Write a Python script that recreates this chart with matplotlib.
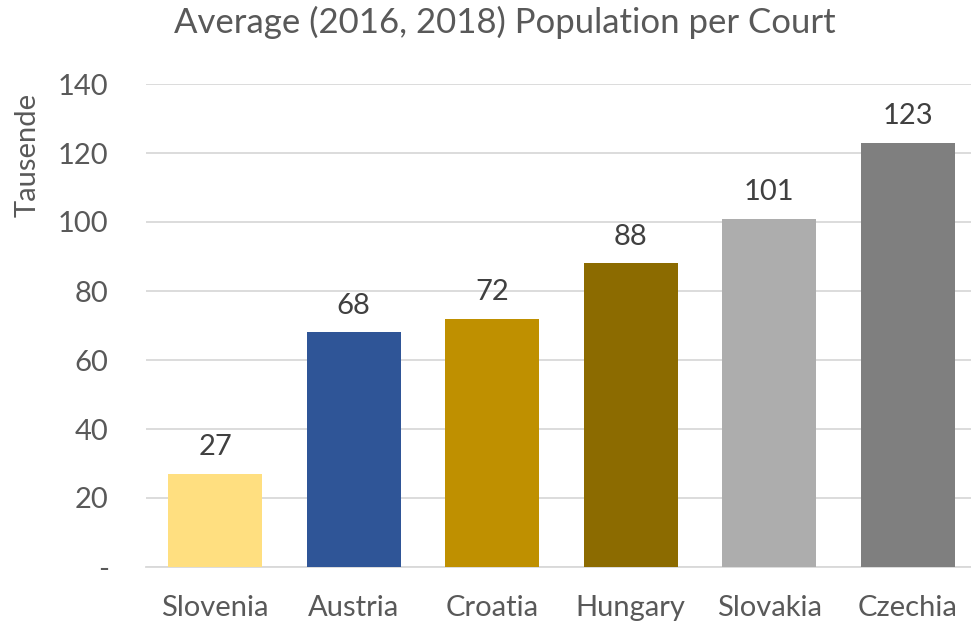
import matplotlib.pyplot as plt
import numpy as np

plt.rcParams['font.family'] = ['Lato', 'DejaVu Sans']

# population per court, in thousands
countries = ["Slovenia", "Austria", "Croatia", "Hungary", "Slovakia", "Czechia"]
values = [27, 68, 72, 88, 101, 123]
colors = ["#FFDF80", "#2F5597", "#BF9000", "#8C6B00", "#ADADAD", "#7F7F7F"]
yticks = [0, 20, 40, 60, 80, 100, 120, 140]
ytick_labels = ["-", "20", "40", "60", "80", "100", "120", "140"]

W, H = 971, 625
fig = plt.figure(figsize=(W / 100, H / 100), dpi=100)
ax = fig.add_axes([146 / W, 58 / H, 831 / W, 483 / H])

x = np.arange(len(countries))
bars = ax.bar(x, values, width=0.68, color=colors, zorder=3)

for xi, v in zip(x, values):
    ax.text(xi, v + 4, str(v), ha="center", va="bottom", fontsize=21, color="#404040")

ax.set_xlim(-0.5, len(countries) - 0.5)
ax.set_ylim(0, 140)
ax.set_yticks(yticks)
ax.set_yticklabels(ytick_labels)
ax.set_xticks(x)
ax.set_xticklabels(countries)
ax.tick_params(axis="both", length=0, labelsize=21, labelcolor="#595959")
ax.tick_params(axis="y", pad=27)
ax.tick_params(axis="x", pad=20)
ax.grid(axis="y", color="#D9D9D9", linewidth=1.3, zorder=0)
for side in ["top", "right", "left"]:
    ax.spines[side].set_visible(False)
ax.spines["bottom"].set_color("#D9D9D9")
ax.spines["bottom"].set_linewidth(1.3)

fig.text(505 / W, 1 - 22 / H, "Average (2016, 2018) Population per Court",
         ha="center", va="center", fontsize=25, color="#595959")
fig.text(28 / W, 1 - 155 / H, "Tausende", ha="center", va="center",
         rotation=90, fontsize=21, color="#595959")

fig.savefig("out.png", dpi=100)
